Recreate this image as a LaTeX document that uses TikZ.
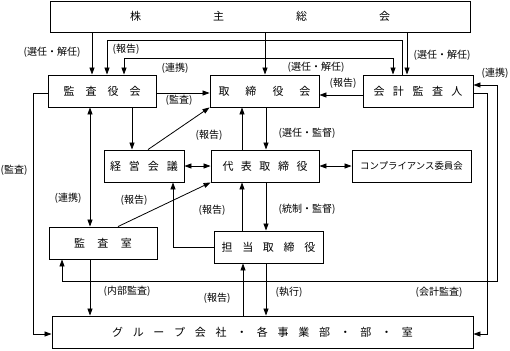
\documentclass[tikz,border=0pt]{standalone}
\usepackage{fontspec}
\setmainfont{Noto Sans CJK JP}
\usetikzlibrary{arrows.meta}
\newcommand{\gapp}[1]{\hspace{#1pt}}
\begin{document}
\begin{tikzpicture}[x=1pt,y=-1pt,
  box/.style={draw, line width=0.9pt, inner sep=0pt, minimum height=32pt, font=\fontsize{11}{13}\selectfont},
  lbl/.style={inner sep=0pt, font=\fontsize{10}{12}\selectfont},
  ln/.style={line width=0.8pt},
  arr/.style={ln, -{Triangle[length=7pt,width=5pt]}},
  arrb/.style={ln, {Triangle[length=7pt,width=5pt]}-{Triangle[length=7pt,width=5pt]}}]
\useasboundingbox (0,0) rectangle (510,350);
% boxes
\node[box, minimum width=420pt, minimum height=31pt] (sh) at (260,16.5) {株\gapp{72}主\gapp{72}総\gapp{72}会};
\node[box, minimum width=108pt] (kansa) at (102,91) {監\gapp{11}査\gapp{11}役\gapp{11}会};
\node[box, minimum width=109pt] (tori) at (264.5,91) {取\gapp{16}締\gapp{16}役\gapp{16}会};
\node[box, minimum width=110pt] (kaikei) at (418,91) {会\gapp{8.5}計\gapp{8.5}監\gapp{8.5}査\gapp{8.5}人};
\node[box, minimum width=80pt] (keiei) at (144,166) {経\gapp{8}営\gapp{8}会\gapp{8}議};
\node[box, minimum width=108pt] (daihyo) at (265,166) {代\gapp{7.5}表\gapp{7.5}取\gapp{7.5}締\gapp{7.5}役};
\node[box, minimum width=119pt, font=\fontsize{9.4}{11}\selectfont] (comp) at (411.5,166) {コンプライアンス委員会};
\node[box, minimum width=108pt] (kshitsu) at (103,243) {監\gapp{12.5}査\gapp{12.5}室};
\node[box, minimum width=109pt] (tanto) at (268.5,247) {担\gapp{9.7}当\gapp{9.7}取\gapp{9.7}締\gapp{9.7}役};
\node[box, minimum width=421pt] (group) at (262.5,332) {グ\gapp{9.7}ル\gapp{9.7}ー\gapp{9.7}プ\gapp{9.7}会\gapp{9.7}社\gapp{9.7}・\gapp{9.7}各\gapp{9.7}事\gapp{9.7}業\gapp{9.7}部\gapp{9.7}・\gapp{9.7}部\gapp{9.7}・\gapp{9.7}室};
% connectors
\draw[arr] (92,0 |- sh.south) -- (92,0 |- kansa.north);
\draw[arr] (265,0 |- sh.south) -- (265,0 |- tori.north);
\draw[arr] (407,0 |- sh.south) -- (407,0 |- kaikei.north);
\draw[arr] (402,0 |- kaikei.north) -- (402,40) -- (107,40) -- (107,0 |- kansa.north);
\draw[arrb] (124,0 |- kansa.north) -- (124,58) -- (393,58) -- (393,0 |- kaikei.north);
\draw[arr] (kaikei.west |- 0,95) -- (tori.east |- 0,95);
\draw[arr] (kansa.east |- 0,93) -- (tori.west |- 0,93);
\draw[arr] (132,0 |- kansa.south) -- (132,0 |- keiei.north);
\draw[arrb] (90,0 |- kansa.south) -- (90,0 |- kshitsu.north);
\draw[arr] (kansa.west |- 0,93) -- (33,93) -- (33,334) -- (group.west |- 0,334);
\draw[arr] (148,0 |- keiei.north) -- (tori.south west);
\draw[arrb] (keiei.east) -- (daihyo.west);
\draw[arr] (242,0 |- daihyo.north) -- (242,0 |- tori.south);
\draw[arr] (266,0 |- tori.south) -- (266,0 |- daihyo.north);
\draw[arrb] (daihyo.east) -- (comp.west);
\draw[arr] (266,0 |- daihyo.south) -- (266,0 |- tanto.north);
\draw[arr] (242,0 |- tanto.north) -- (242,0 |- daihyo.south);
\draw[arr] (118,0 |- kshitsu.north) -- (daihyo.south west);
\draw[arr] (tanto.west) -- (173,247) -- (173,0 |- keiei.south);
\draw[arr] (90,0 |- kshitsu.south) -- (90,0 |- group.north);
\draw[arr] (243,0 |- group.north) -- (243,0 |- tanto.south);
\draw[arr] (266,0 |- tanto.south) -- (266,0 |- group.north);
\draw[arrb] (62,0 |- kshitsu.south) -- (62,281) -- (497,281) -- (497,85) -- (kaikei.east |- 0,85);
\draw[arr] (kaikei.east |- 0,93) -- (487,93) -- (487,334) -- (group.east |- 0,334);
% labels
\node[lbl] (l1) at (52,52) {(選任・解任)};
\node[lbl] (l2) at (126,49) {(報告)};
\node[lbl] (l3) at (175,68) {(連携)};
\node[lbl] (l4) at (179,100) {(監査)};
\node[lbl] (l5) at (316,67) {(選任・解任)};
\node[lbl] (l6) at (442,55) {(選任・解任)};
\node[lbl] (l7) at (343,83) {(報告)};
\node[lbl] (l8) at (495,73) {(連携)};
\node[lbl] (l9) at (14,170) {(監査)};
\node[lbl] (l10) at (209,135) {(報告)};
\node[lbl] (l11) at (68,198) {(連携)};
\node[lbl] (l12) at (134,200) {(報告)};
\node[lbl] (l13) at (212,210) {(報告)};
\node[lbl] (l14) at (307,133) {(選任・監督)};
\node[lbl] (l15) at (307,209) {(統制・監督)};
\node[lbl] (l16) at (127,291) {(内部監査)};
\node[lbl] (l17) at (217,298) {(報告)};
\node[lbl] (l18) at (289,292) {(執行)};
\node[lbl] (l19) at (439,292) {(会計監査)};
\end{tikzpicture}
\end{document}
